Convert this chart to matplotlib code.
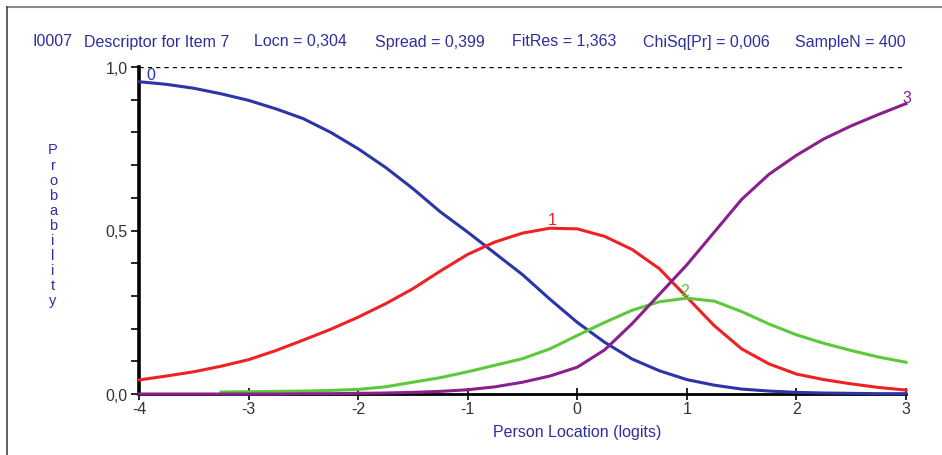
import numpy as np
import matplotlib
matplotlib.use("Agg")
import matplotlib.pyplot as plt
from matplotlib.ticker import FixedLocator

# person location grid (logits) and category probability curves
LOGITS = [-4.0, -3.75, -3.5, -3.25, -3.0, -2.75, -2.5, -2.25, -2.0, -1.75, -1.5, -1.25,
          -1.0, -0.75, -0.5, -0.25, 0.0, 0.25, 0.5, 0.75, 1.0, 1.25, 1.5, 1.75,
          2.0, 2.25, 2.5, 2.75, 3.0]
CAT0 = [0.955, 0.947, 0.935, 0.918, 0.898, 0.872, 0.842, 0.800, 0.750, 0.693, 0.628, 0.557,
        0.495, 0.430, 0.365, 0.290, 0.219, 0.158, 0.107, 0.071, 0.044, 0.027, 0.015, 0.009,
        0.005, 0.003, 0.002, 0.001, 0.001]
CAT1 = [0.043, 0.055, 0.068, 0.085, 0.105, 0.133, 0.165, 0.198, 0.235, 0.276, 0.322, 0.376,
        0.427, 0.465, 0.492, 0.507, 0.505, 0.482, 0.442, 0.383, 0.296, 0.209, 0.138, 0.092,
        0.061, 0.044, 0.031, 0.020, 0.012]
CAT2 = [np.nan, np.nan, np.nan, 0.006, 0.007, 0.008, 0.009, 0.011, 0.014, 0.022, 0.036, 0.050,
        0.068, 0.088, 0.108, 0.138, 0.179, 0.219, 0.256, 0.282, 0.293, 0.284, 0.252, 0.214,
        0.181, 0.155, 0.133, 0.113, 0.097]
CAT3 = [0.0, 0.0, 0.0, 0.0, 0.0, 0.0, 0.001, 0.001, 0.002, 0.003, 0.005, 0.008,
        0.013, 0.022, 0.036, 0.055, 0.082, 0.135, 0.215, 0.305, 0.395, 0.495, 0.595, 0.672,
        0.730, 0.780, 0.820, 0.855, 0.888]

CURVES = [("0", CAT0, "#2b35a8"), ("1", CAT1, "#ee2222"),
          ("2", CAT2, "#5cc83a"), ("3", CAT3, "#8a1f8e")]
# where each category number is written (logit, probability)
LABEL_AT = {"0": (-3.93, 0.955), "1": (-0.23, 0.512), "2": (0.98, 0.293), "3": (3.01, 0.885)}

HEADER = [(32, "I0007"), (84, "Descriptor for Item 7"), (254, "Locn = 0,304"),
          (375, "Spread = 0,399"), (512, "FitRes = 1,363"), (643, "ChiSq[Pr] = 0,006"),
          (795, "SampleN = 400")]

TXT_BLUE = "#2e2e9e"
W, H = 942, 456

plt.rcParams["font.family"] = ["Liberation Sans", "DejaVu Sans"]
fig = plt.figure(figsize=(W / 100, H / 100), dpi=100)

# window-ish frame: grey top line and left line
fig.add_artist(plt.Line2D([7 / W, 1], [1 - 8 / H, 1 - 8 / H], color="#8a8a8a", lw=1.5))
fig.add_artist(plt.Line2D([7 / W, 7 / W], [0, 1 - 8 / H], color="#444444", lw=1.2))

for px, s in HEADER:
    fig.text(px / W, 1 - 42 / H, s, color=TXT_BLUE, fontsize=11.5, va="center", ha="left")

ax = fig.add_axes([139 / W, 1 - 395 / H, (906 - 139) / W, (395 - 68) / H])
ax.set_xlim(-4, 3)
ax.set_ylim(0, 1)
for s in ("top", "right"):
    ax.spines[s].set_visible(False)
ax.spines["left"].set_linewidth(2.6)
ax.spines["bottom"].set_linewidth(2.0)

ax.axhline(1.0, color="black", lw=1.0, ls=(0, (3, 3)), zorder=1)

for name, vals, col in CURVES:
    ax.plot(LOGITS, vals, color=col, lw=2.2, clip_on=False, zorder=3)
    lx, ly = LABEL_AT[name]
    ax.text(lx, ly, name, color=col, fontsize=11.5, ha="left" if name == "0" else "center",
            va="bottom", zorder=4)

ax.set_yticks([0, 0.5, 1.0])
ax.set_yticklabels(["0,0", "0,5", "1,0"])
ax.yaxis.set_minor_locator(FixedLocator(np.arange(0.1, 1.0, 0.1)))
ax.tick_params(axis="y", which="both", direction="out", length=6, width=1.2,
               labelsize=11.5, labelcolor="#333333", pad=2)
ax.set_xticks([-4, -3, -2, -1, 0, 1, 2, 3])
ax.set_xticklabels(["-4", "-3", "-2", "-1", "0", "1", "2", "3"])
ax.tick_params(axis="x", direction="inout", length=8, width=1.2,
               labelsize=11.5, labelcolor="#333333", pad=1)

fig.text(577 / W, 1 - 433 / H, "Person Location (logits)", color=TXT_BLUE,
         fontsize=11.5, ha="center", va="center")
fig.text(53 / W, 1 - 226 / H, "\n".join("Probability"), color=TXT_BLUE,
         fontsize=10.5, ha="center", va="center", linespacing=1.1)

fig.savefig("out.png", dpi=100, facecolor="white")
